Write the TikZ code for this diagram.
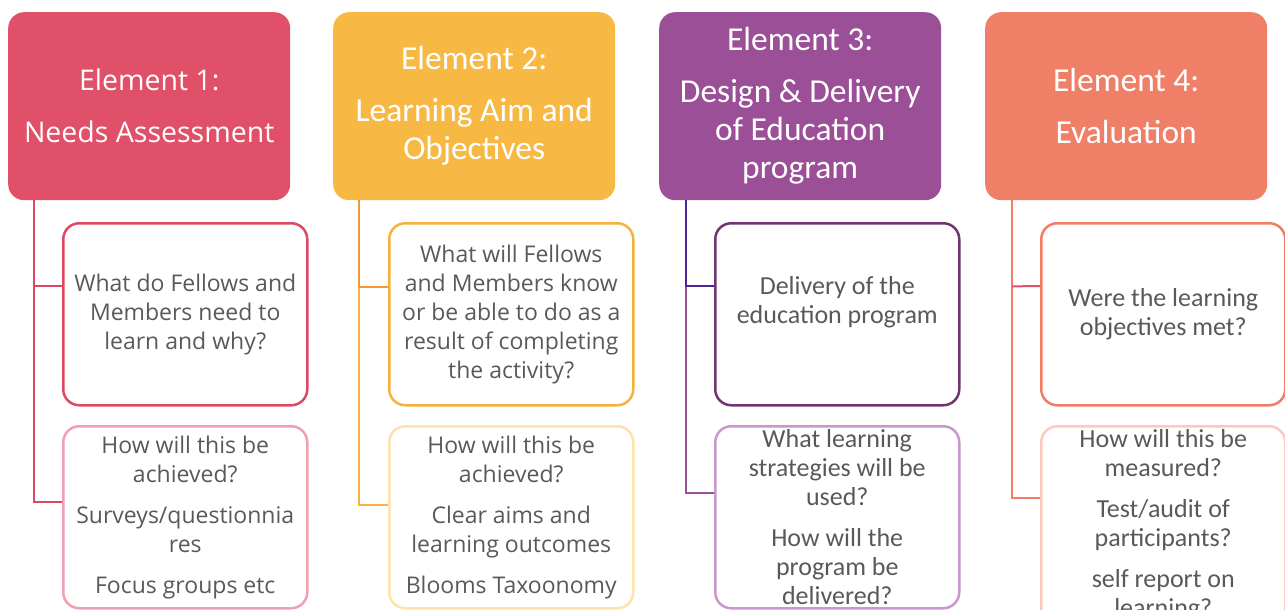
\documentclass[tikz,border=0pt]{standalone}
\usepackage{fontspec}
\usepackage{tikz}
\setmainfont{Carlito}
\newfontfamily\segoe{Open Sans}
\usetikzlibrary{positioning}
\definecolor{needshead}{RGB}{224,80,104}
\definecolor{needsline}{RGB}{222,72,100}
\definecolor{needssoft}{RGB}{240,160,176}
\definecolor{aimhead}{RGB}{248,184,68}
\definecolor{aimline}{RGB}{246,178,60}
\definecolor{aimsoft}{RGB}{253,226,172}
\definecolor{designhead}{RGB}{155,79,150}
\definecolor{designline}{RGB}{112,52,112}
\definecolor{designsoft}{RGB}{202,150,206}
\definecolor{evalhead}{RGB}{239,128,103}
\definecolor{evalline}{RGB}{240,124,100}
\definecolor{evalsoft}{RGB}{250,202,190}
\definecolor{txtgrey}{RGB}{89,89,89}

\begin{document}
\begin{tikzpicture}[x=1pt,y=-1pt,
    head/.style={rectangle,rounded corners=16pt,anchor=north west,minimum width=282pt,minimum height=188pt,text=white,align=center,font=\fontsize{33.5}{38}\selectfont},
    item/.style={rectangle,rounded corners=16pt,anchor=north west,line width=2.5pt,minimum width=244pt,minimum height=182pt,text=txtgrey,align=center,font=\fontsize{26}{29}\selectfont},
    spine/.style={line width=2pt}]
    \useasboundingbox (0,0) rectangle (1285,610);

    % Element 1
    \node[head,fill=needshead,font=\segoe\fontsize{28.5}{38}\selectfont] (h1) at (8,12) {Element 1:\\[14pt]Needs Assessment};
    \node[item,draw=needsline,font=\segoe\fontsize{23}{29}\selectfont] (q1) at (62,222) {What do Fellows and\\Members need to\\learn and why?};
    \node[item,draw=needssoft,font=\segoe\fontsize{23}{29}\selectfont] (a1) at (62,425) {How will this be\\achieved?\\[12pt]Surveys/questionnia\\res\\[12pt]Focus groups etc};

    % Element 2
    \node[head,fill=aimhead] (h2) at (333,12) {Element 2:\\[14pt]Learning Aim and\\Objectives};
    \node[item,draw=aimline,font=\segoe\fontsize{23}{29}\selectfont] (q2) at (388,222) {What will Fellows\\and Members know\\or be able to do as a\\result of completing\\the activity?};
    \node[item,draw=aimsoft,font=\segoe\fontsize{23}{29}\selectfont] (a2) at (388,425) {How will this be\\achieved?\\[12pt]Clear aims and\\learning outcomes\\[12pt]Blooms Taxoonomy};

    % Element 3
    \node[head,fill=designhead] (h3) at (659,12) {Element 3:\\[14pt]Design \& Delivery\\of Education\\program};
    \node[item,draw=designline] (q3) at (714,222) {Delivery of the\\education program\\\mbox{}};
    \node[item,draw=designsoft] (a3) at (714,425) {What learning\\strategies will be\\used?\\[12pt]How will the\\program be\\delivered?};

    % Element 4
    \node[head,fill=evalhead] (h4) at (985,12) {Element 4:\\[14pt]Evaluation};
    \node[item,draw=evalline] (q4) at (1040,222) {Were the learning\\objectives met?};
    \node[item,draw=evalsoft] (a4) at (1040,425) {How will this be\\measured?\\[12pt]Test/audit of\\participants?\\[12pt]self report on\\learning?};

    % spines down the left of each column
    \draw[spine,needsline] ([xshift=26pt]h1.south west) |- ([yshift=-64pt]q1.north west);
    \draw[spine,needsline] ([xshift=26pt]h1.south west) |- ([yshift=-77pt]a1.north west);
    \draw[spine,aimline] ([xshift=26pt]h2.south west) |- ([yshift=-80pt]a2.north west);
    \draw[spine,aimline!85!red] ([xshift=26pt]h2.south west) |- ([yshift=-65pt]q2.north west);
    \draw[spine,designhead] ([xshift=27pt]h3.south west) |- ([yshift=-68pt]a3.north west);
    \draw[spine,designline!70!blue] ([xshift=27pt]h3.south west) |- ([yshift=-64pt]q3.north west);
    \draw[spine,evalline] ([xshift=27pt]h4.south west) |- ([yshift=-73pt]a4.north west);
    \draw[spine,needshead] ([xshift=27pt,yshift=-86pt]h4.south west) -- ([yshift=-64pt]q4.north west);
\end{tikzpicture}
\end{document}
